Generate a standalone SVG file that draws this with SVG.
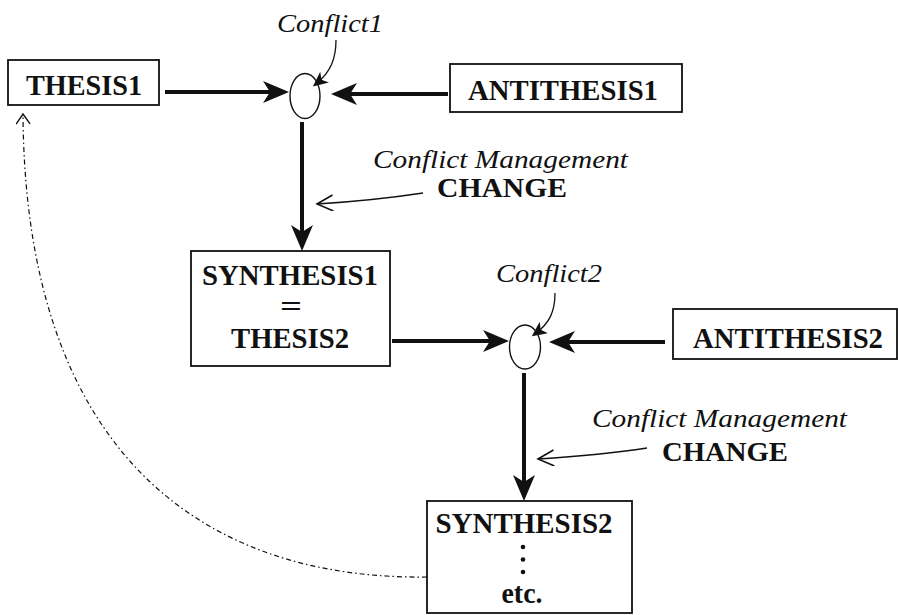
<svg xmlns="http://www.w3.org/2000/svg" width="898" height="615" viewBox="0 0 898 615">
  <style>
    .box { fill: none; stroke: #111; stroke-width: 1.8; }
    .node { font-family: "Liberation Serif", "Times New Roman", serif; font-weight: bold; font-size: 29px; fill: #111; text-anchor: middle; }
    .lab { font-family: "Liberation Serif", "Times New Roman", serif; font-style: italic; font-size: 26px; fill: #111; }
    .chg { font-family: "Liberation Serif", "Times New Roman", serif; font-weight: bold; font-size: 28px; fill: #111; }
    .knot { fill: none; stroke: #111; stroke-width: 1.4; }
    .flow { stroke: #111; stroke-width: 4; fill: none; marker-end: url(#head); }
    .note { stroke: #111; stroke-width: 1.5; fill: none; marker-end: url(#chev); }
    .pin { stroke: #111; stroke-width: 1.3; fill: none; marker-end: url(#barb); }
    .back { stroke: #111; stroke-width: 1.2; fill: none; stroke-dasharray: 5 3 1.5 3; marker-end: url(#chev-s); }
  </style>
  <defs>
    <marker id="head" markerUnits="userSpaceOnUse" markerWidth="28" markerHeight="24" viewBox="0 0 28 24" refX="16" refY="11" orient="auto">
      <path d="M0,0 L26,11 L0,22 L7,11 Z" fill="#111"/>
    </marker>
    <marker id="barb" markerUnits="userSpaceOnUse" markerWidth="18" markerHeight="16" viewBox="0 0 18 16" refX="11" refY="7" orient="auto">
      <path d="M0,0 L15,7 L0,14 L4,7 Z" fill="#111"/>
    </marker>
    <marker id="chev" markerUnits="userSpaceOnUse" markerWidth="20" markerHeight="18" viewBox="0 0 20 18" refX="17" refY="8" orient="auto">
      <path d="M1,0 L17,8 L1,16" fill="none" stroke="#111" stroke-width="1.6"/>
    </marker>
    <marker id="chev-s" markerUnits="userSpaceOnUse" markerWidth="14" markerHeight="16" viewBox="0 0 14 16" refX="11" refY="7" orient="auto">
      <path d="M1,0 L11,7 L1,14" fill="none" stroke="#111" stroke-width="1.4"/>
    </marker>
  </defs>
  <rect width="898" height="615" fill="#fff"/>

  <g id="thesis1">
    <rect class="box" x="8" y="60" width="151" height="45"/>
    <text class="node" x="84" y="95" textLength="116" lengthAdjust="spacingAndGlyphs">THESIS1</text>
  </g>

  <g id="antithesis1">
    <rect class="box" x="450" y="64" width="232" height="48"/>
    <text class="node" x="563" y="100" textLength="190" lengthAdjust="spacingAndGlyphs">ANTITHESIS1</text>
  </g>

  <g id="conflict1">
    <ellipse class="knot" cx="305" cy="96" rx="15" ry="22.5"/>
    <text class="lab" x="277" y="32" textLength="106" lengthAdjust="spacingAndGlyphs">Conflict1</text>
  </g>

  <g id="change1">
    <text class="lab" x="373" y="168" textLength="255" lengthAdjust="spacingAndGlyphs">Conflict Management</text>
    <text class="chg" x="437" y="197" textLength="130" lengthAdjust="spacingAndGlyphs">CHANGE</text>
  </g>

  <g id="synthesis1">
    <rect class="box" x="191" y="251" width="199" height="115"/>
    <text class="node" x="290" y="285" textLength="176" lengthAdjust="spacingAndGlyphs">SYNTHESIS1</text>
    <text class="node" x="291" y="316" textLength="22" lengthAdjust="spacingAndGlyphs">=</text>
    <text class="node" x="290" y="348" textLength="118" lengthAdjust="spacingAndGlyphs">THESIS2</text>
  </g>

  <g id="conflict2">
    <ellipse class="knot" cx="525" cy="347" rx="15.5" ry="22"/>
    <text class="lab" x="496" y="282" textLength="106" lengthAdjust="spacingAndGlyphs">Conflict2</text>
  </g>

  <g id="antithesis2">
    <rect class="box" x="673" y="309" width="224" height="50"/>
    <text class="node" x="788" y="348" textLength="190" lengthAdjust="spacingAndGlyphs">ANTITHESIS2</text>
  </g>

  <g id="change2">
    <text class="lab" x="592" y="427" textLength="255" lengthAdjust="spacingAndGlyphs">Conflict Management</text>
    <text class="chg" x="662" y="461" textLength="126" lengthAdjust="spacingAndGlyphs">CHANGE</text>
  </g>

  <g id="synthesis2">
    <rect class="box" x="427" y="501" width="205" height="112"/>
    <text class="node" x="524" y="533" textLength="177" lengthAdjust="spacingAndGlyphs">SYNTHESIS2</text>
    <circle cx="523" cy="547" r="2.3" fill="#111"/>
    <circle cx="523" cy="559.5" r="2.3" fill="#111"/>
    <circle cx="523" cy="572" r="2.3" fill="#111"/>
    <text class="node" x="522" y="603" textLength="41" lengthAdjust="spacingAndGlyphs">etc.</text>
  </g>

  <g id="connectors">
    <line class="flow" x1="165" y1="92" x2="279" y2="92"/>
    <line class="flow" x1="448" y1="94" x2="341" y2="94"/>
    <line class="flow" x1="302" y1="122" x2="302" y2="241"/>
    <line class="flow" x1="392" y1="341" x2="499" y2="341"/>
    <line class="flow" x1="665" y1="342" x2="559" y2="342"/>
    <line class="flow" x1="524" y1="373" x2="524" y2="491"/>
    <path class="pin" d="M336,40 C336,58 331,72 316,84"/>
    <path class="pin" d="M555,293 C555,311 550,323 535,334"/>
    <path class="note" d="M423,193 C390,198 350,202 317,204"/>
    <path class="note" d="M647,448 C615,453 570,457 538,459"/>
    <path class="back" d="M427,577 C200,580 25,450 23,114"/>
  </g>
</svg>
